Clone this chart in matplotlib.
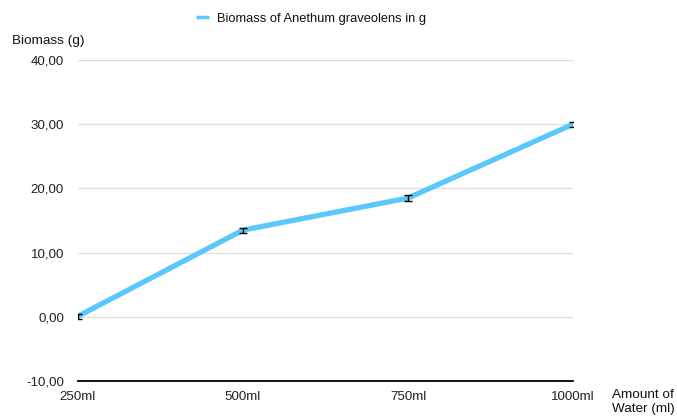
import matplotlib
matplotlib.use("Agg")
import matplotlib.pyplot as plt

categories = ["250ml", "500ml", "750ml", "1000ml"]
biomass = [0.1, 13.5, 18.5, 30.0]
errors = [0.4, 0.4, 0.4, 0.4]
yticks = [-10, 0, 10, 20, 30, 40]
ytick_labels = ["-10,00", "0,00", "10,00", "20,00", "30,00", "40,00"]

plt.rcParams['font.family'] = ['Liberation Sans', 'DejaVu Sans']
fig = plt.figure(figsize=(6.77, 4.18), dpi=100)
ax = fig.add_axes([78/677, 1-381/418, (573-78)/677, (381-60)/418])

x = list(range(len(categories)))
ax.plot(x, biomass, color="#5AC8FA", lw=3.8, solid_capstyle="butt", zorder=3,
        label="Biomass of Anethum graveolens in g")
ax.errorbar(x, biomass, yerr=errors, fmt="none", ecolor="black", elinewidth=1,
            capsize=3, capthick=1, zorder=4)

ax.set_xlim(0, 3)
ax.set_ylim(-10, 40)
ax.set_yticks(yticks)
ax.set_yticklabels(ytick_labels)
ax.set_xticks(x)
ax.set_xticklabels(categories)
ax.tick_params(length=0, labelsize=9.6, colors="#222222")
ax.tick_params(axis="y", pad=10)
ax.tick_params(axis="x", pad=7)
ax.grid(axis="y", color="#dddddd", lw=0.9)
ax.set_axisbelow(True)
for s in ["top", "right", "left"]:
    ax.spines[s].set_visible(False)
ax.spines["bottom"].set_color("black")
ax.spines["bottom"].set_linewidth(1.3)
ax.spines["bottom"].set_zorder(5)

fig.text(12/677, 1-41/418, "Biomass (g)", fontsize=9.7, va="center", ha="left", color="#111111")
fig.text(612/677, 1-402/418, "Amount of\nWater (ml)", fontsize=9.7, va="center", ha="left",
         color="#111111", linespacing=1.3)

leg = fig.legend(loc="center", bbox_to_anchor=(311/677, 1-19/418), frameon=False,
                 fontsize=9.3, handlelength=1.0, handletextpad=0.6)
for l in leg.get_lines():
    l.set_linewidth(2.5)
for t in leg.get_texts():
    t.set_color("#111111")

fig.savefig("out.png", dpi=100)
